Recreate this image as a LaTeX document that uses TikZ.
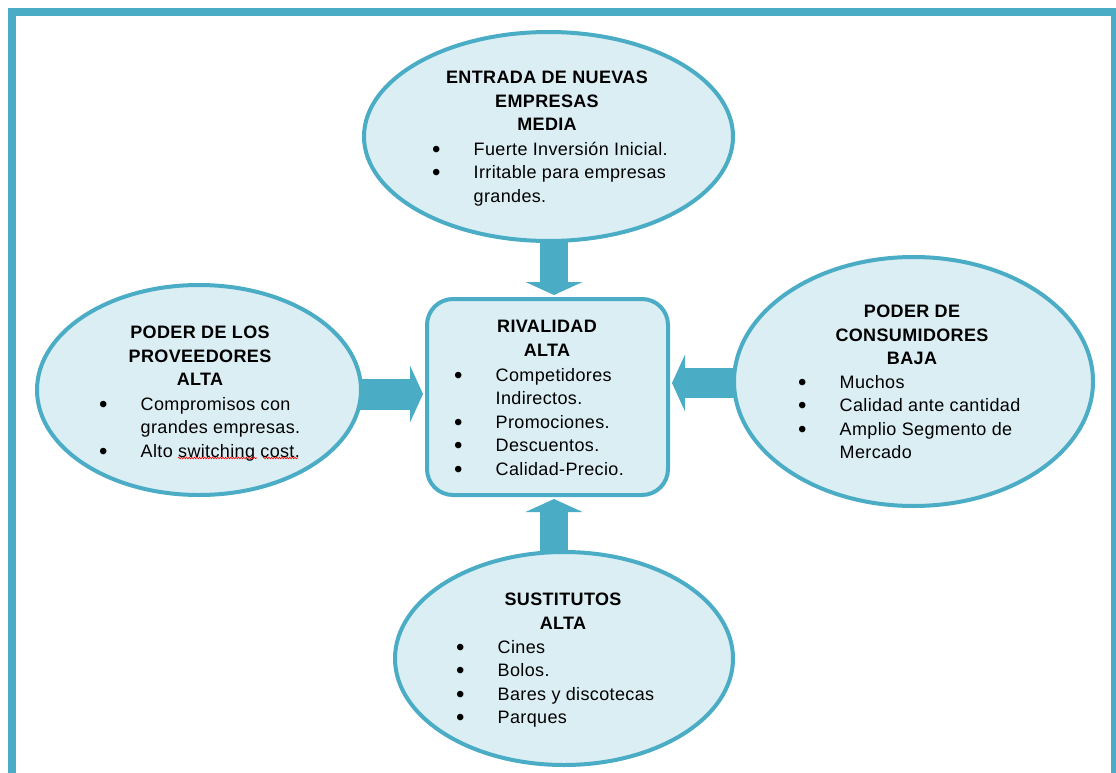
\documentclass[tikz,border=0pt]{standalone}
\usepackage{fontspec}
\setmainfont{Liberation Sans}[LetterSpace=2]
\usetikzlibrary{arrows.meta,shapes.geometric,decorations.pathmorphing}
\definecolor{tealb}{HTML}{4BACC6}
\definecolor{tealf}{HTML}{DAEEF3}
\tikzset{
  oval/.style={ellipse, draw=tealb, fill=tealf, line width=4pt, inner sep=0pt},
  rbox/.style={rectangle, rounded corners=26pt, draw=tealb, fill=tealf, line width=4pt, inner sep=0pt},
  blockarrow/.style={draw=tealb, line width=#1, -{Triangle[width=57pt,length=13pt,line width=0pt]}},
  titletext/.style={font=\fontsize{18}{23.5}\selectfont\bfseries, align=center, inner sep=0pt, anchor=north},
  listtext/.style={font=\fontsize{18}{23.5}\selectfont, inner sep=0pt, anchor=north west},
  frameline/.style={draw=tealb, line width=8pt},
  spellmark/.style={draw=red, line width=0.6pt, decorate, decoration={snake, amplitude=0.8pt, segment length=2.6pt}}
}
\newcommand{\blist}[1]{\begin{tabular}{@{}p{40.5pt}@{}l@{}}#1\end{tabular}}
\newcommand{\bul}{\hspace*{-1pt}\raisebox{-2pt}{\fontsize{24}{0}\selectfont\textbullet}}
\begin{document}
\begin{tikzpicture}[x=1pt,y=-1pt]
\useasboundingbox (0,0) rectangle (1116,773);
\clip (0,0) rectangle (1116,773);
\fill[white] (0,0) rectangle (1116,773);
% frame
\draw[frameline] (12,800) -- (12,12) -- (1115,12) -- (1115,800);

% shape positions
\coordinate (ptop) at (548.5,136.5);
\coordinate (pleft) at (199,390);
\coordinate (pright) at (913.5,381.5);
\coordinate (pbot) at (564,658.5);
\coordinate (pbox) at (547.5,397);
\coordinate (ly) at (0,394);
\coordinate (ry) at (0,383);

% invisible shape nodes used as arrow ends
\path (pbox) node[rbox, minimum width=241pt, minimum height=196pt, draw=none, fill=none] (box) {};
\path (ptop) node[oval, minimum width=369pt, minimum height=209pt, draw=none, fill=none] (entrada) {};
\path (pleft) node[oval, minimum width=324pt, minimum height=210pt, draw=none, fill=none] (prov) {};
\path (pright) node[oval, minimum width=359pt, minimum height=249pt, draw=none, fill=none] (cons) {};
\path (pbot) node[oval, minimum width=338pt, minimum height=213pt, draw=none, fill=none] (sust) {};

% arrows
\draw[blockarrow=28pt] ([xshift=5.5pt]entrada.center) -- ([xshift=6.5pt,yshift=2pt]box.north);
\draw[blockarrow=28pt] ([xshift=-10pt]sust.center) -- ([xshift=6.5pt,yshift=-2pt]box.south);
\draw[blockarrow=31pt] (prov.center |- ly) -- ([xshift=-2pt]box.west |- ly);
\draw[blockarrow=30pt] (cons.center |- ry) -- ([xshift=2pt]box.east |- ry);

% visible shapes
\path (pbox) node[rbox, minimum width=241pt, minimum height=196pt] (boxv) {};
\path (ptop) node[oval, minimum width=369pt, minimum height=209pt] (entradav) {};
\path (pleft) node[oval, minimum width=324pt, minimum height=210pt] (provv) {};
\path (pright) node[oval, minimum width=359pt, minimum height=249pt] (consv) {};
\path (pbot) node[oval, minimum width=338pt, minimum height=213pt] (sustv) {};

% texts
\node[titletext] (t1) at (547,71) {ENTRADA DE NUEVAS\\EMPRESAS\\MEDIA};
\node[listtext] (l1) at (433,138.5) {\blist{\bul & Fuerte Inversión Inicial.\\ \bul & Irritable para empresas\\ & grandes.}};

\node[titletext] (t2) at (200,326) {PODER DE LOS\\PROVEEDORES\\ALTA};
\node[listtext] (l2) at (100,393.5) {\blist{\bul & Compromisos con\\ & grandes empresas.\\ \bul & Alto switching cost.}};

\node[titletext] (t3) at (912,305) {PODER DE\\CONSUMIDORES\\BAJA};
\node[listtext] (l3) at (799,371.5) {\blist{\bul & Muchos\\ \bul & Calidad ante cantidad\\ \bul & Amplio Segmento de\\ & Mercado}};

\node[titletext] (t4) at (563,593) {SUSTITUTOS\\ALTA};
\node[listtext] (l4) at (457,636.5) {\blist{\bul & Cines\\ \bul & Bolos.\\ \bul & Bares y discotecas\\ \bul & Parques}};

\node[titletext] (t5) at (547,320) {RIVALIDAD\\ALTA};
\node[listtext] (l5) at (455,364.5) {\blist{\bul & Competidores\\ & Indirectos.\\ \bul & Promociones.\\ \bul & Descuentos.\\ \bul & Calidad-Precio.}};

% spell-check marks
\draw[spellmark] (178,458) -- (257,458);
\draw[spellmark] (263,458) -- (298,458);
\end{tikzpicture}
\end{document}
